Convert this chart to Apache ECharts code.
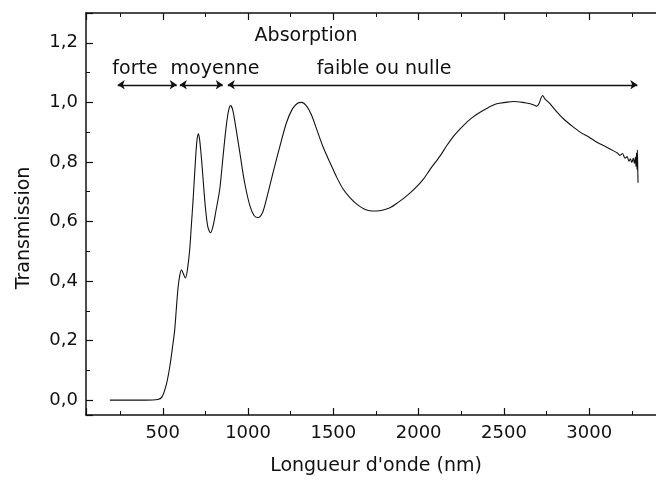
<!DOCTYPE html>
<html>
<head>
<meta charset="utf-8">
<script src="https://cdn.jsdelivr.net/npm/echarts@6/dist/echarts.min.js"></script>
<style>html,body{margin:0;padding:0;background:#fff;}</style>
</head>
<body>
<div id="chart" style="width:656px;height:480px;"></div>
<script type="text/javascript">
// longueur d'onde (nm)
var wavelength = [190, 300, 400, 470, 495, 520, 541, 560, 570, 580, 590, 600, 610, 620, 633, 645, 658, 668, 678, 690,
  700, 709, 716, 724, 732, 742, 752, 765, 780, 795, 810, 834, 852, 870, 885, 897, 910, 930, 952, 980, 1011,
  1035, 1059, 1085, 1110, 1147, 1190, 1226, 1260, 1290, 1314, 1340, 1370, 1402, 1440, 1480, 1520, 1558, 1600, 1637, 1680,
  1725, 1780, 1832, 1880, 1930, 1980, 2028, 2067, 2126, 2164, 2210, 2262, 2310, 2360, 2410, 2458, 2510, 2556, 2610, 2654,
  2680, 2693, 2705, 2718, 2727, 2740, 2771, 2810, 2850, 2900, 2947, 3000, 3045, 3100, 3143, 3165, 3180, 3195, 3210, 3222,
  3233, 3241, 3250, 3258, 3265, 3270, 3274, 3277, 3280, 3282, 3284, 3286];
// transmission
var transmission = [0.0, 0.0, 0.0, 0.002, 0.01, 0.05, 0.112, 0.19, 0.236, 0.31, 0.38, 0.42, 0.438, 0.425, 0.41, 0.44, 0.506, 0.59, 0.674, 0.79,
  0.87, 0.894, 0.875, 0.83, 0.775, 0.7, 0.635, 0.58, 0.562, 0.585, 0.63, 0.708, 0.81, 0.91, 0.97, 0.989, 0.975, 0.91, 0.83, 0.73, 0.652,
  0.62, 0.613, 0.63, 0.68, 0.765, 0.86, 0.933, 0.978, 0.997, 1.0, 0.99, 0.96, 0.91, 0.85, 0.798, 0.748, 0.708, 0.678, 0.658, 0.642,
  0.635, 0.637, 0.646, 0.664, 0.686, 0.712, 0.742, 0.775, 0.82, 0.854, 0.89, 0.922, 0.947, 0.967, 0.983, 0.995, 1.0, 1.003, 1.0, 0.995,
  0.99, 0.987, 0.995, 1.015, 1.023, 1.012, 0.995, 0.968, 0.944, 0.92, 0.9, 0.883, 0.866, 0.85, 0.837, 0.83, 0.822, 0.828, 0.812, 0.818,
  0.802, 0.81, 0.798, 0.812, 0.795, 0.815, 0.785, 0.83, 0.775, 0.84, 0.79, 0.73];

// zones d'absorption (flèches)
var bandNames = ['forte', 'moyenne', 'faible ou nulle'];
var bandStart = [236, 600, 881];
var bandEnd = [582, 852, 3282];
var arrowLevel = 1.059;

var FONT = 'DejaVu Sans';

var myChart = echarts.init(document.getElementById('chart'));

var points = wavelength.map(function (w, i) { return [w, transmission[i]]; });
var arrows = bandStart.map(function (s, i) {
  return [{coord: [s, arrowLevel]}, {coord: [bandEnd[i], arrowLevel]}];
});

function commaFmt(v) { return v.toFixed(1).replace('.', ','); }

var axisCommon = {
  axisLine: {show: true, onZero: false, lineStyle: {color: '#111', width: 1.5}},
  axisTick: {show: true, inside: true, length: 7, lineStyle: {color: '#111', width: 1.2}},
  minorTick: {show: true, splitNumber: 2, length: 4, lineStyle: {color: '#111', width: 1}},
  splitLine: {show: false}
};

var option = {
  animation: false,
  backgroundColor: '#fff',
  grid: {left: 86, top: 13, width: 580, bottom: 65, outerBoundsMode: 'none', containLabel: false},
  xAxis: [
    echarts.util.merge({
      type: 'value', position: 'bottom', min: 50, max: 3450, splitNumber: 7,
      name: "Longueur d'onde (nm)", nameLocation: 'middle', nameGap: 42,
      nameTextStyle: {fontFamily: FONT, fontSize: 19, color: '#111'},
      axisLabel: {fontFamily: FONT, fontSize: 18, color: '#111', margin: 9, showMinLabel: false, showMaxLabel: false,
        formatter: function (v) { return String(v); }}
    }, axisCommon, true),
    echarts.util.merge({
      type: 'value', position: 'top', min: 50, max: 3450, splitNumber: 7,
      axisLabel: {show: false}
    }, axisCommon, true)
  ],
  yAxis: [
    echarts.util.merge({
      type: 'value', position: 'left', min: -0.05, max: 1.3, splitNumber: 7,
      name: 'Transmission', nameLocation: 'middle', nameGap: 52,
      nameTextStyle: {fontFamily: FONT, fontSize: 19, color: '#111', padding: [0, 28, 0, 0]},
      axisLabel: {fontFamily: FONT, fontSize: 18, color: '#111', margin: 8, showMinLabel: false, showMaxLabel: false,
        formatter: commaFmt}
    }, axisCommon, true)
  ],
  series: [
    {
      type: 'line',
      data: points,
      showSymbol: false,
      smooth: 0.3,
      lineStyle: {color: '#111', width: 1.1},
      markLine: {
        silent: true,
        symbol: ['arrow', 'arrow'],
        symbolSize: 7,
        label: {show: false},
        lineStyle: {color: '#111', width: 1.3, type: 'solid'},
        data: arrows
      }
    }
  ],
  graphic: [
    {type: 'text', style: {text: 'Absorption', x: 306, y: 36, align: 'center', verticalAlign: 'middle', font: '19px "DejaVu Sans"', fill: '#111'}},
    {type: 'text', style: {text: bandNames[0], x: 135, y: 69, align: 'center', verticalAlign: 'middle', font: '19px "DejaVu Sans"', fill: '#111'}},
    {type: 'text', style: {text: bandNames[1], x: 215, y: 69, align: 'center', verticalAlign: 'middle', font: '19px "DejaVu Sans"', fill: '#111'}},
    {type: 'text', style: {text: bandNames[2], x: 384, y: 69, align: 'center', verticalAlign: 'middle', font: '19px "DejaVu Sans"', fill: '#111'}}
  ]
};

myChart.setOption(option);
</script>
</body>
</html>
